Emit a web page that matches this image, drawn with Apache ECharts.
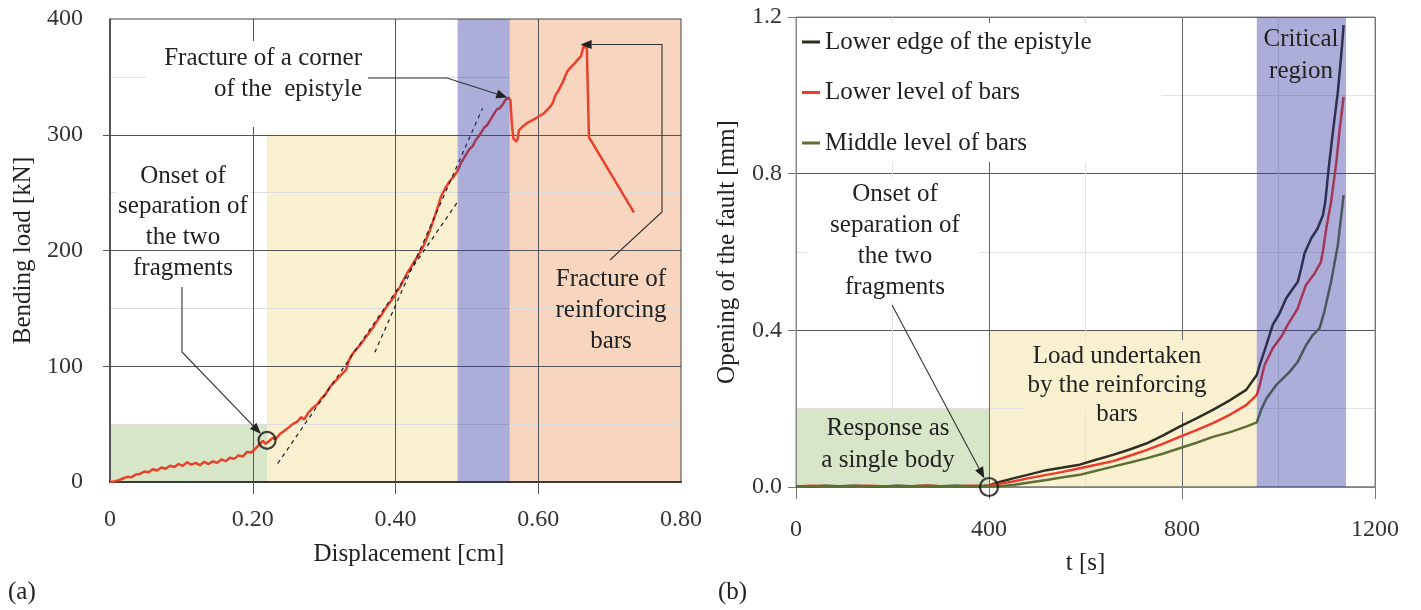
<!DOCTYPE html>
<html>
<head>
<meta charset="utf-8">
<script src="https://cdn.jsdelivr.net/npm/echarts@6/dist/echarts.min.js"></script>
<style>
  html, body { margin: 0; padding: 0; background: #fff; }
  #chart { width: 1421px; height: 610px; }
</style>
</head>
<body>
<div id="chart"></div>
<script>
// ---------- (a) bending test: displacement [cm] vs bending load [kN] ----------
const dispCm = [0.000,0.006,0.012,0.018,0.024,0.030,0.036,0.042,0.048,0.054,0.060,0.066,0.072,0.078,0.084,0.090,0.096,0.102,0.108,0.114,0.120,0.126,0.132,0.138,0.144,0.150,0.156,0.162,0.168,0.174,0.180,0.186,0.192,0.198,0.204,0.210,0.214,0.218,0.222,0.228,0.232,0.238,0.244,0.250,0.256,0.262,0.268,0.272,0.278,0.284,0.290,0.296,0.302,0.308,0.314,0.320,0.326,0.331,0.334,0.338,0.344,0.350,0.356,0.362,0.368,0.374,0.380,0.386,0.392,0.398,0.402,0.406,0.410,0.416,0.422,0.428,0.434,0.440,0.446,0.452,0.458,0.464,0.470,0.476,0.482,0.487,0.492,0.498,0.504,0.508,0.512,0.518,0.524,0.528,0.532,0.538,0.542,0.546,0.550,0.554,0.558,0.561,0.563,0.565,0.569,0.571,0.573,0.578,0.584,0.590,0.596,0.601,0.607,0.615,0.620,0.624,0.629,0.634,0.638,0.641,0.645,0.650,0.654,0.657,0.660,0.662,0.664,0.666,0.668,0.671,0.734];
const loadKN = [0,0.5,1.5,3,4.5,4,6.5,7,9,8.5,11,10,12.5,11.5,14,13,15.5,14,17,15,16.5,14.5,17.5,15.5,18,16.5,19.5,18,21,20,23,22,26,25.5,29,33,35.5,33,35,38,37,41.5,44,47,50,52,56,54,60,64,67,72,76,82,86,90,94,97,104,109,114,118,123,128,133,139,144,150,155,160,165,168,173,180,186,192,198,205,214,224,235,247,254,260,264,269,276,282,288,290,295,300,306,308,312,318,322,323,326,330,332,330,310,297,294,296,304,307,310,312,314,316,318,323,327,334,339,345,351,355,358,361,364,366,368,373,378,375,377,298,233];

// dashed stiffness guides (x in cm, y in kN)
const guideLowerX = [0.235, 0.487];
const guideLowerY = [16, 242];
const guideUpperX = [0.371, 0.522];
const guideUpperY = [112, 323];

// loading stages of test (a): [x0, y0, x1, y1]
const stageSingleA = [0, 0, 0.22, 50];
const stageBarsA = [0.22, 0, 0.487, 300];
const stageCriticalA = [0.487, 0, 0.56, 400];
const stageRuptureA = [0.56, 0, 0.80, 400];

// annotated events of test (a)
const onsetA = [0.22, 36];
const cornerFractureA = [0.558, 332];
const barsFractureA = [0.665, 378];

// ---------- (b) fault opening [mm] vs time [s] ----------
const edgeT = [0,30,60,90,120,150,180,210,240,270,300,330,360,390,400,420,450,480,519,550,588,620,657,690,726,760,795,830,864,900,933,955,961,975,988,1002,1016,1030,1040,1047,1054,1068,1081,1092,1097,1104,1112,1123,1130,1135];
const edgeMm = [0.002,0.001,0.003,0.002,0.003,0.002,0.001,0.003,0.002,0.003,0.002,0.003,0.002,0.003,0.004,0.012,0.022,0.031,0.043,0.049,0.057,0.069,0.082,0.095,0.111,0.131,0.154,0.175,0.197,0.222,0.248,0.286,0.311,0.363,0.414,0.443,0.482,0.507,0.524,0.558,0.597,0.635,0.660,0.694,0.728,0.814,0.899,1.009,1.103,1.179];

const lowerBarsT = [0,30,60,90,120,150,180,210,240,270,300,330,360,390,400,420,450,480,519,550,588,620,657,690,726,760,795,830,864,900,933,955,961,971,988,1006,1019,1040,1047,1057,1075,1088,1093,1099,1109,1120,1127,1135];
const lowerBarsMm = [0.001,0.003,0.002,0.001,0.002,0.003,0.002,0.001,0.002,0.003,0.002,0.001,0.003,0.002,0.003,0.008,0.014,0.022,0.031,0.038,0.048,0.056,0.066,0.079,0.094,0.110,0.128,0.145,0.163,0.185,0.209,0.235,0.260,0.311,0.354,0.384,0.414,0.456,0.482,0.516,0.546,0.575,0.609,0.660,0.728,0.830,0.916,0.996];

const middleBarsT = [0,30,60,90,120,150,180,210,240,270,300,330,360,390,400,420,450,480,519,550,588,620,657,690,726,760,795,830,864,900,933,955,964,975,995,1023,1040,1057,1071,1085,1095,1109,1123,1135];
const middleBarsMm = [0.001,0.002,0.001,0.002,0.001,0.002,0.002,0.001,0.002,0.001,0.002,0.001,0.002,0.001,0.001,0.002,0.005,0.011,0.018,0.024,0.031,0.041,0.052,0.062,0.073,0.085,0.099,0.113,0.128,0.140,0.154,0.165,0.197,0.226,0.260,0.294,0.320,0.362,0.388,0.405,0.448,0.524,0.618,0.745];

const seriesNamesB = ['Lower edge of the epistyle', 'Lower level of bars', 'Middle level of bars'];

// loading stages of test (b): [t0, y0, t1, y1]
const stageSingleB = [0, 0, 400, 0.2];
const stageBarsB = [400, 0, 955, 0.4];
const stageCriticalB = [955, 0, 1140, 1.2];

const onsetB = [400, 0];

// ---------- styling ----------
const FONT = '"Liberation Serif", "Times New Roman", serif';
const TXT = '#222';
const GREEN = '#d7e6c6';
const YELLOW = '#f9f0d0';
const SALMON = '#f7d5bf';
const PURPLE = 'rgba(50,50,160,0.40)';

const zip = (xs, ys) => xs.map((x, i) => [x, ys[i]]);
const area = (s, color) => [{ coord: [s[0], s[1]], itemStyle: { color } }, { coord: [s[2], s[3]] }];

function zoneSeries(xi, zones, z) {
  return {
    type: 'line', xAxisIndex: xi, yAxisIndex: xi, data: [], silent: true, z,
    markArea: { silent: true, z, label: { show: false }, data: zones }
  };
}

const chart = echarts.init(document.getElementById('chart'));

chart.setOption({
  animation: false,
  backgroundColor: '#fff',
  textStyle: { fontFamily: FONT },
  grid: [
    { left: 110, top: 19, width: 571, height: 463, show: true, z: 4, borderColor: '#444', borderWidth: 1, backgroundColor: 'transparent', outerBoundsMode: 'none' },
    { left: 796, top: 17, width: 579, height: 470, show: true, z: 4, borderColor: '#888', borderWidth: 1, backgroundColor: 'transparent', outerBoundsMode: 'none' }
  ],
  xAxis: [
    {
      gridIndex: 0, type: 'value', min: 0, max: 0.8, interval: 0.2, z: 3,
      name: 'Displacement [cm]', nameLocation: 'middle', nameGap: 60,
      nameTextStyle: { fontFamily: FONT, fontSize: 25, color: TXT, padding: [0, 0, 0, 27] },
      axisLine: { show: true, lineStyle: { color: '#333', width: 2 } },
      axisTick: { show: true, customValues: [0.2, 0.4, 0.6], length: 12, lineStyle: { color: '#555' } },
      axisLabel: { margin: 26, fontFamily: FONT, fontSize: 24, color: '#333',
        formatter: v => (v === 0 ? '0' : v.toFixed(2)) },
      splitLine: { show: true, lineStyle: { color: '#555', width: 1 } },
      minorSplitLine: { show: false }
    },
    {
      gridIndex: 1, type: 'value', min: 0, max: 1200, interval: 400, z: 3,
      name: 't [s]', nameLocation: 'middle', nameGap: 64,
      nameTextStyle: { fontFamily: FONT, fontSize: 25, color: TXT },
      axisLine: { show: true, lineStyle: { color: '#888', width: 1.5 } },
      axisTick: { show: true, length: 12, lineStyle: { color: '#777' } },
      axisLabel: { margin: 31, fontFamily: FONT, fontSize: 24, color: '#333', formatter: v => String(Math.round(v)) },
      splitLine: { show: true, lineStyle: { color: '#666', width: 1 } },
      minorTick: { show: false, splitNumber: 2 },
      minorSplitLine: { show: true, lineStyle: { color: '#e2e2e2', width: 1 } }
    }
  ],
  yAxis: [
    {
      gridIndex: 0, type: 'value', min: 0, max: 400, interval: 100, z: 3,
      name: 'Bending load [kN]', nameLocation: 'middle', nameGap: 74,
      nameTextStyle: { fontFamily: FONT, fontSize: 25, color: TXT },
      axisLine: { show: true, lineStyle: { color: '#333', width: 1.5 } },
      axisTick: { show: true, customValues: [100, 200, 300], length: 7, lineStyle: { color: '#555' } },
      axisLabel: { margin: 27, fontFamily: FONT, fontSize: 24, color: '#333' },
      splitLine: { show: true, lineStyle: { color: '#555', width: 1 } },
      minorTick: { show: false, splitNumber: 2 },
      minorSplitLine: { show: true, lineStyle: { color: '#dddddd', width: 1 } }
    },
    {
      gridIndex: 1, type: 'value', min: 0, max: 1.2, interval: 0.4, z: 3,
      name: 'Opening of the fault [mm]', nameLocation: 'middle', nameGap: 56,
      nameTextStyle: { fontFamily: FONT, fontSize: 25, color: TXT },
      axisLine: { show: true, lineStyle: { color: '#888', width: 1 } },
      axisTick: { show: true, length: 8, lineStyle: { color: '#777' } },
      axisLabel: { margin: 14, fontFamily: FONT, fontSize: 24, color: '#333', formatter: v => v.toFixed(1) },
      splitLine: { show: true, lineStyle: { color: '#555', width: 1 } },
      minorTick: { show: false, splitNumber: 2 },
      minorSplitLine: { show: true, lineStyle: { color: '#e2e2e2', width: 1 } }
    }
  ],
  legend: {
    data: seriesNamesB, orient: 'vertical', left: 797, top: 23, z: 6,
    padding: [6, 70, 6, 5], backgroundColor: '#fff',
    icon: 'rect', itemWidth: 18, itemHeight: 3, itemGap: 24.5,
    textStyle: { fontFamily: FONT, fontSize: 25, color: TXT, lineHeight: 26 },
    selectedMode: false
  },
  series: [
    // background stages (drawn beneath the grid lines)
    zoneSeries(0, [area(stageSingleA, GREEN), area(stageBarsA, YELLOW), area(stageRuptureA, SALMON)], 1),
    zoneSeries(1, [area(stageSingleB, GREEN), area(stageBarsB, YELLOW)], 1),

    // (a) load-displacement curve
    {
      name: 'Load', type: 'line', xAxisIndex: 0, yAxisIndex: 0, data: zip(dispCm, loadKN),
      showSymbol: false, z: 5, lineStyle: { color: '#e8412c', width: 2.5 }, itemStyle: { color: '#e8412c' }
    },
    {
      name: 'guide1', type: 'line', xAxisIndex: 0, yAxisIndex: 0, data: zip(guideLowerX, guideLowerY),
      showSymbol: false, z: 5, lineStyle: { color: '#1a1a2a', width: 1.2, type: [4, 4] }
    },
    {
      name: 'guide2', type: 'line', xAxisIndex: 0, yAxisIndex: 0, data: zip(guideUpperX, guideUpperY),
      showSymbol: false, z: 5, lineStyle: { color: '#1a1a2a', width: 1.2, type: [4, 4] }
    },

    // (b) fault opening curves
    {
      name: seriesNamesB[0], type: 'line', xAxisIndex: 1, yAxisIndex: 1, data: zip(edgeT, edgeMm),
      showSymbol: false, z: 5, lineStyle: { color: '#2d2d22', width: 2.5 }, itemStyle: { color: '#2d2d22' }
    },
    {
      name: seriesNamesB[1], type: 'line', xAxisIndex: 1, yAxisIndex: 1, data: zip(lowerBarsT, lowerBarsMm),
      showSymbol: false, z: 5, lineStyle: { color: '#ee3a2a', width: 2.5 }, itemStyle: { color: '#ee3a2a' }
    },
    {
      name: seriesNamesB[2], type: 'line', xAxisIndex: 1, yAxisIndex: 1, data: zip(middleBarsT, middleBarsMm),
      showSymbol: false, z: 5, lineStyle: { color: '#5d7033', width: 2.5 }, itemStyle: { color: '#5d7033' }
    },

    // critical stage: translucent band laid over the curves
    zoneSeries(0, [area(stageCriticalA, PURPLE)], 7),
    zoneSeries(1, [area(stageCriticalB, PURPLE)], 7),

    // onset-of-separation markers
    {
      name: 'onsetA', type: 'scatter', xAxisIndex: 0, yAxisIndex: 0, data: [onsetA], z: 8,
      symbol: 'circle', symbolSize: 17,
      itemStyle: { color: 'rgba(0,0,0,0)', borderColor: '#111', borderWidth: 2.2 }
    },
    {
      name: 'onsetB', type: 'scatter', xAxisIndex: 1, yAxisIndex: 1, data: [onsetB], z: 8,
      symbol: 'circle', symbolSize: 18,
      itemStyle: { color: 'rgba(0,0,0,0)', borderColor: '#111', borderWidth: 2.2 }
    }
  ]
});

// ---------- annotations ----------
const toPx = (g, p) => chart.convertToPixel({ gridIndex: g }, p);

function arrow(points, tip, back) {
  // polyline ending at the tip, with a filled head
  const pts = points.slice();
  const prev = pts[pts.length - 1];
  const dx = tip[0] - prev[0], dy = tip[1] - prev[1];
  const L = Math.hypot(dx, dy), ux = dx / L, uy = dy / L;
  const end = [tip[0] - ux * back, tip[1] - uy * back];
  const len = 11, half = 4.5;
  const base = [end[0] - ux * len, end[1] - uy * len];
  const head = [end, [base[0] - uy * half, base[1] + ux * half], [base[0] + uy * half, base[1] - ux * half]];
  return [
    { type: 'polyline', z: 11, shape: { points: pts.concat([base]) }, style: { stroke: '#333', lineWidth: 1.1, fill: null } },
    { type: 'polygon', z: 11, shape: { points: head }, style: { fill: '#222' } }
  ];
}

function label(text, x, y, align, lineHeight) {
  return {
    type: 'text', z: 12,
    style: { text, x, y, font: '25px ' + FONT, fill: TXT, align, verticalAlign: 'middle', lineHeight }
  };
}

// backing panels behind the notes (beneath the curves)
function box(x, y, w, h, fill) {
  return { type: 'rect', z: 4, shape: { x, y, width: w, height: h }, style: { fill } };
}

const pOnsetA = toPx(0, onsetA);
const pCorner = toPx(0, cornerFractureA);
const pBars = toPx(0, barsFractureA);
const pOnsetB = toPx(1, onsetB);

const graphics = [
  // panel (a)
  box(146, 41, 222, 86, '#fff'),
  label('Fracture of a corner\nof the  epistyle', 362, 73.5, 'right', 31),
  box(116, 160, 134, 87, '#fff'),
  label('Onset of\nseparation of\nthe two\nfragments', 183, 222, 'center', 30.7),
  label('Fracture of\nreinforcing\nbars', 611, 310, 'center', 31),
  ...arrow([[368, 78], [447, 78]], pCorner, 1),
  ...arrow([[182, 287], [182, 352]], pOnsetA, 9),
  ...arrow([[610, 260], [662, 212], [662, pBars[1]]], pBars, -4),
  // panel (b)
  box(808, 178, 172, 124, '#fff'),
  label('Onset of\nseparation of\nthe two\nfragments', 895, 240.5, 'center', 31),
  box(818, 420, 140, 50, GREEN),
  label('Response as\na single body', 888, 444, 'center', 32),
  box(1023, 340, 188, 72, YELLOW),
  label('Load undertaken\nby the reinforcing\nbars', 1117, 385, 'center', 29),
  label('Critical\nregion', 1301, 55, 'center', 32),
  ...arrow([[892, 305]], pOnsetB, 10),
  // panel tags
  label('(a)', 8, 592, 'left', 30),
  label('(b)', 718, 592, 'left', 30)
];

chart.setOption({ graphic: graphics });
</script>
</body>
</html>
